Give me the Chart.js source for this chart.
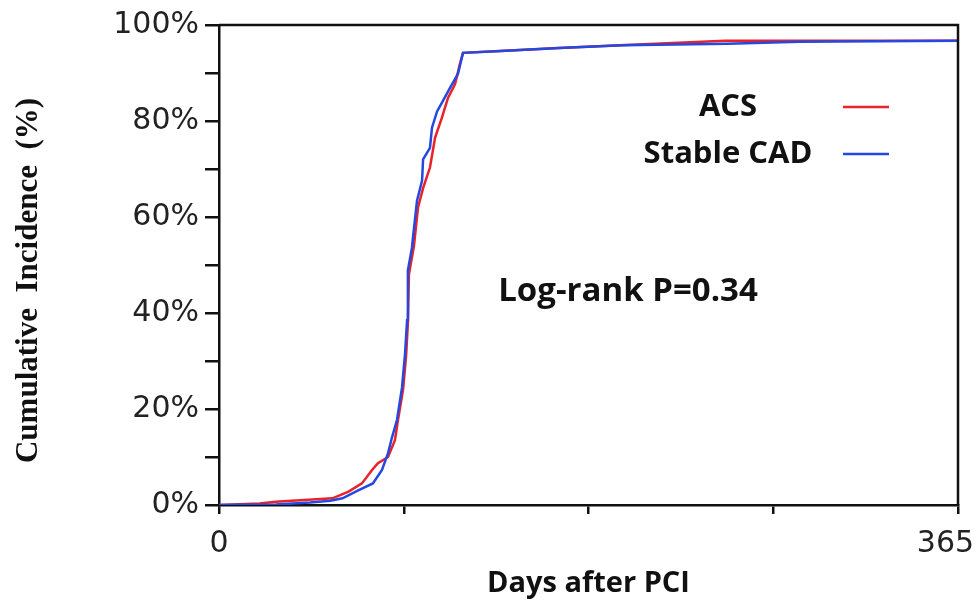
<!DOCTYPE html>
<html>
<head>
<meta charset="utf-8">
<script src="https://cdn.jsdelivr.net/npm/chart.js@4.4.1/dist/chart.umd.min.js"></script>
<style>
  html, body { margin: 0; padding: 0; background: #fff; }
  #wrap { width: 979px; height: 601px; }
</style>
</head>
<body>
<div id="wrap"><canvas id="km"></canvas></div>
<script>
// days after PCI -> cumulative incidence (%)
const acsDays = [0, 20, 28, 56, 64, 70.6, 75.6, 78.5, 83.5, 86.9, 88.4, 90.9, 92.4, 93.3, 93.8, 96.3, 98.3, 100.8, 104.2, 106.7, 110.1, 113.1, 116.6, 119, 120.5, 139, 168, 198, 250, 365];
const acsPct = [0, 0.3, 0.7, 1.4, 2.8, 4.5, 7.3, 8.7, 10, 13.5, 17.7, 24, 31, 38, 48, 54, 62, 66, 70.3, 76.5, 80.7, 84.8, 87.7, 91.9, 94.2, 94.6, 95.2, 95.8, 96.7, 96.7];

const stableDays = [0, 28, 45, 55, 61, 69, 76, 80.5, 83.5, 85.4, 87.9, 90.4, 91.9, 92.9, 93.3, 95.3, 95.8, 97.8, 100.3, 100.8, 104.2, 105.2, 107.7, 110.6, 114.1, 118, 120.5, 139, 168, 199.5, 251, 287, 365];
const stablePct = [0, 0.1, 0.5, 0.9, 1.4, 3.1, 4.5, 7.3, 10.8, 14, 17.7, 24.5, 31.6, 38.5, 48.9, 53.6, 55.7, 63.4, 67.6, 72, 74.4, 78.6, 82, 84.2, 86.9, 89.8, 94.2, 94.6, 95.2, 95.8, 96.1, 96.5, 96.7];

const seriesNames = ['ACS', 'Stable CAD'];
const seriesColors = ['#e8222a', '#2448e0'];
const xTickDays = [0, 91.25, 182.5, 273.75, 365];
// trailing spaces pull the last label left like in the original
const xTickLabels = ['0', '', '', '', '365  \u2009'];
const yTickLabels = [0, 20, 40, 60, 80, 100];
const pValueText = 'Log-rank P=0.34';

const toPoints = (xs, ys) => xs.map((x, i) => ({ x: x, y: ys[i] }));

// box round the plot, legend and p-value text
const extras = {
  id: 'extras',
  afterDatasetsDraw(chart) {
    const { ctx, chartArea: a } = chart;
    ctx.save();
    ctx.strokeStyle = '#111';
    ctx.lineWidth = 2.5;
    ctx.beginPath();
    ctx.moveTo(a.left, a.top);
    ctx.lineTo(a.right, a.top);
    ctx.lineTo(a.right, a.bottom);
    ctx.stroke();

    ctx.fillStyle = '#111';
    ctx.textAlign = 'center';
    ctx.textBaseline = 'middle';
    ctx.font = 'bold 31px "Open Sans"';
    seriesNames.forEach((name, i) => {
      const y = a.top + 82 + i * 47;
      ctx.fillText(name, a.left + 509, y);
      ctx.strokeStyle = seriesColors[i];
      ctx.lineWidth = 2.5;
      ctx.beginPath();
      ctx.moveTo(a.left + 624, y);
      ctx.lineTo(a.left + 670, y);
      ctx.stroke();
    });

    ctx.font = 'bold 33px "Open Sans"';
    ctx.fillText(pValueText, a.left + 409, a.top + 267);
    ctx.restore();
  }
};

new Chart(document.getElementById('km'), {
  type: 'line',
  data: {
    datasets: [
      {
        label: seriesNames[0],
        data: toPoints(acsDays, acsPct),
        borderColor: seriesColors[0],
        borderWidth: 2.5,
        pointRadius: 0,
        tension: 0,
        order: 1,
      },
      {
        label: seriesNames[1],
        data: toPoints(stableDays, stablePct),
        borderColor: seriesColors[1],
        borderWidth: 2.5,
        pointRadius: 0,
        tension: 0,
        order: 0,
      },
    ],
  },
  options: {
    responsive: true,
    maintainAspectRatio: false,
    animation: false,
    layout: { padding: { top: 25, right: 21, left: 0, bottom: 0 } },
    plugins: {
      legend: { display: false },
      tooltip: { enabled: false },
    },
    scales: {
      x: {
        type: 'linear',
        min: 0,
        max: 365,
        afterBuildTicks: (scale) => {
          scale.ticks = xTickDays.map((v) => ({ value: v }));
        },
        afterFit: (scale) => {
          scale.height = 96;
          scale.paddingLeft = 0;
          scale.paddingRight = 0;
        },
        ticks: {
          autoSkip: false,
          maxRotation: 0,
          padding: 12,
          color: '#222',
          font: { family: 'DejaVu Sans', size: 30 },
          callback: (v, i) => xTickLabels[i],
        },
        grid: {
          drawOnChartArea: false,
          tickLength: 9,
          color: '#111',
          lineWidth: 2.5,
        },
        border: { color: '#111', width: 2.5 },
        title: {
          display: true,
          text: 'Days after PCI',
          color: '#111',
          font: { family: 'Open Sans', weight: 'bold', size: 29 },
          padding: { top: 0, bottom: 0 },
        },
      },
      y: {
        min: 0,
        max: 100,
        afterFit: (scale) => {
          scale.width = 219;
          scale.paddingTop = 0;
          scale.paddingBottom = 0;
        },
        ticks: {
          stepSize: 10,
          padding: 6,
          color: '#222',
          font: { family: 'DejaVu Sans', size: 30 },
          callback: (v) => (yTickLabels.includes(v) ? v + '%' : ''),
        },
        grid: {
          drawOnChartArea: false,
          tickLength: 14,
          color: '#111',
          lineWidth: 2.5,
        },
        border: { color: '#111', width: 2.5 },
        title: {
          display: true,
          text: 'Cumulative  Incidence  (%)    ',
          color: '#111',
          font: { family: 'Liberation Serif', weight: 'bold', size: 31 },
          padding: { top: 10, bottom: 0 },
        },
      },
    },
  },
  plugins: [extras],
});
</script>
</body>
</html>
